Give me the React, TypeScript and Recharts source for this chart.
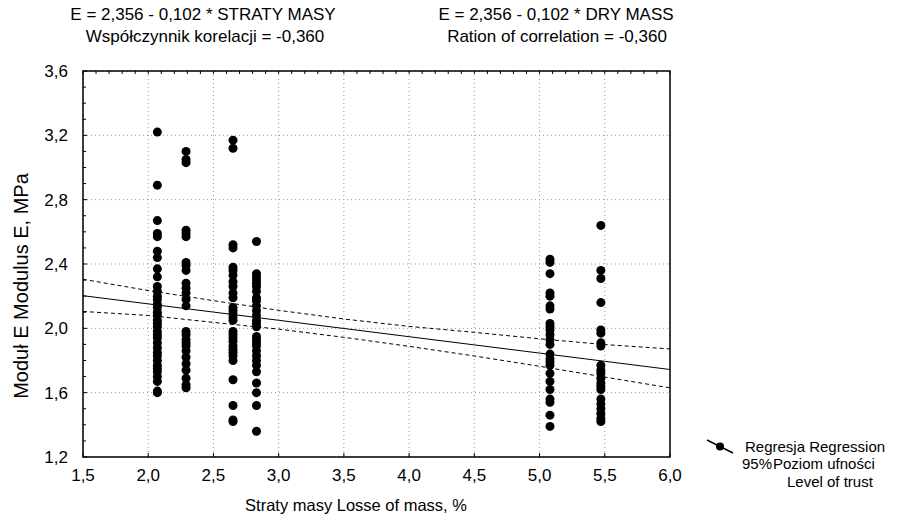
import React from 'react';
import { ScatterChart, Scatter, XAxis, YAxis, CartesianGrid, ReferenceArea } from 'recharts';

// ---- data ----
const columnX = [2.07, 2.29, 2.65, 2.83, 5.08, 5.47];
const col1 = [3.22, 2.89, 2.67, 2.59, 2.57, 2.48, 2.44, 2.37, 2.32, 2.26, 2.23, 2.20, 2.18, 2.15, 2.13, 2.10, 2.08, 2.05, 2.03, 2.01, 1.98, 1.96, 1.94, 1.91, 1.88, 1.85, 1.83, 1.80, 1.77, 1.75, 1.73, 1.70, 1.67, 1.61, 1.60];
const col2 = [3.10, 3.05, 3.03, 2.61, 2.59, 2.57, 2.41, 2.39, 2.36, 2.28, 2.25, 2.22, 2.18, 2.14, 1.98, 1.96, 1.93, 1.91, 1.89, 1.86, 1.82, 1.78, 1.74, 1.69, 1.65, 1.63];
const col3 = [3.17, 3.12, 2.52, 2.50, 2.38, 2.36, 2.33, 2.29, 2.26, 2.22, 2.19, 2.13, 2.11, 2.09, 2.07, 2.05, 1.98, 1.96, 1.94, 1.92, 1.89, 1.87, 1.85, 1.83, 1.80, 1.68, 1.52, 1.43, 1.42];
const col4 = [2.54, 2.34, 2.32, 2.30, 2.28, 2.26, 2.23, 2.19, 2.17, 2.14, 2.11, 2.08, 2.05, 2.03, 2.01, 1.95, 1.93, 1.91, 1.89, 1.86, 1.83, 1.80, 1.77, 1.73, 1.66, 1.60, 1.52, 1.36];
const col5 = [2.43, 2.41, 2.34, 2.22, 2.20, 2.14, 2.12, 2.03, 2.01, 1.99, 1.96, 1.93, 1.90, 1.84, 1.81, 1.79, 1.77, 1.72, 1.67, 1.62, 1.56, 1.54, 1.46, 1.39];
const col6 = [2.64, 2.36, 2.31, 2.16, 1.99, 1.97, 1.91, 1.89, 1.77, 1.74, 1.72, 1.69, 1.66, 1.64, 1.62, 1.56, 1.53, 1.50, 1.47, 1.44, 1.42];
const columns = [col1, col2, col3, col4, col5, col6];

const bandX = [1.5, 2.0, 2.5, 3.0, 3.5, 4.0, 4.5, 5.0, 5.5, 6.0];
const regY = [2.203, 2.152, 2.101, 2.050, 1.999, 1.948, 1.897, 1.846, 1.795, 1.744];
const upperY = [2.305, 2.235, 2.172, 2.112, 2.058, 2.012, 1.975, 1.935, 1.899, 1.872];
const lowerY = [2.105, 2.080, 2.037, 1.995, 1.944, 1.888, 1.828, 1.764, 1.697, 1.630];

const xMajorTicks = [1.5, 2.0, 2.5, 3.0, 3.5, 4.0, 4.5, 5.0, 5.5, 6.0];
const xMinorTicks = [1.5, 1.6, 1.7, 1.8, 1.9, 2.0, 2.1, 2.2, 2.3, 2.4, 2.5, 2.6, 2.7, 2.8, 2.9, 3.0, 3.1, 3.2, 3.3, 3.4, 3.5, 3.6, 3.7, 3.8, 3.9, 4.0, 4.1, 4.2, 4.3, 4.4, 4.5, 4.6, 4.7, 4.8, 4.9, 5.0, 5.1, 5.2, 5.3, 5.4, 5.5, 5.6, 5.7, 5.8, 5.9, 6.0];
const yMajorTicks = [1.2, 1.6, 2.0, 2.4, 2.8, 3.2, 3.6];
const yMinorTicks = [1.2, 1.3, 1.4, 1.5, 1.6, 1.7, 1.8, 1.9, 2.0, 2.1, 2.2, 2.3, 2.4, 2.5, 2.6, 2.7, 2.8, 2.9, 3.0, 3.1, 3.2, 3.3, 3.4, 3.5, 3.6];

const points = columnX.flatMap((x, i) => columns[i].map((y) => ({ x, y })));
const toSeries = (ys: number[]) => bandX.map((x, i) => ({ x, y: ys[i] }));
const regData = toSeries(regY);
const upperData = toSeries(upperY);
const lowerData = toSeries(lowerY);

// ---- layout ----
const W = 885;
const H = 508;
const MARGIN = { top: 63, right: 223, bottom: 29, left: 15 };
const YAXIS_W = 60;
const XAXIS_H = 30;
const PLOT_H = H - MARGIN.top - MARGIN.bottom - XAXIS_H;
const FONT = '"Liberation Sans", Arial, sans-serif';

const fmt = (v: number) => v.toFixed(1).replace('.', ',');
const isMajor = (arr: number[], v: number) => arr.some((m) => Math.abs(m - v) < 1e-6);

const XTick = (props: any) => {
  const { x, y, payload } = props;
  const v = payload.value as number;
  const axisY = y - 8;
  const top = axisY - PLOT_H;
  const major = isMajor(xMajorTicks, v);
  return (
    <g>
      <line x1={x} x2={x} y1={top} y2={top + 3} stroke="#000" strokeWidth={1} />
      {major && <line x1={x} x2={x} y1={axisY} y2={axisY - 4} stroke="#000" strokeWidth={1} />}
      {major && (
        <text x={x} y={y + 4} dy="0.71em" textAnchor="middle" fontSize={17} fill="#000" fontFamily={FONT}>
          {fmt(v)}
        </text>
      )}
    </g>
  );
};

const YTick = (props: any) => {
  const { x, y, payload } = props;
  const v = payload.value as number;
  const axisX = x + 15;
  const major = isMajor(yMajorTicks, v);
  return (
    <g>
      <line x1={axisX} x2={axisX + (major ? 4 : 3)} y1={y} y2={y} stroke="#000" strokeWidth={1} />
      {major && (
        <text x={x} y={y} dy="0.355em" textAnchor="end" fontSize={17} fill="#000" fontFamily={FONT}>
          {fmt(v)}
        </text>
      )}
    </g>
  );
};

const Dot = (props: any) => <circle cx={props.cx} cy={props.cy} r={4.5} fill="#000" />;
const NoDot = () => <g />;

// HTML text helper, page coordinates (wrapper sits at 8,8)
const Txt = ({ cx, cy, size = 17, children, align = 'center' }: any) => (
  <div
    style={{
      position: 'absolute',
      left: cx - 8,
      top: cy - 8 - size * 0.6,
      transform: align === 'center' ? 'translateX(-50%)' : 'none',
      fontSize: size,
      lineHeight: `${Math.round(size * 1.2)}px`,
      fontFamily: FONT,
      color: '#000',
      whiteSpace: 'nowrap',
    }}
  >
    {children}
  </div>
);

export default function App() {
  return (
    <div style={{ position: 'relative', width: W, height: H, background: '#fff' }}>
      <ScatterChart width={W} height={H} margin={MARGIN}>
        <CartesianGrid
          stroke="#999"
          strokeDasharray="1 3"
          verticalValues={xMajorTicks}
          horizontalValues={yMajorTicks}
        />
        <XAxis
          type="number"
          dataKey="x"
          domain={[1.5, 6.0]}
          ticks={xMinorTicks}
          interval={0}
          allowDataOverflow
          height={XAXIS_H}
          axisLine={false}
          tickLine={false}
          tick={<XTick />}
        />
        <YAxis
          type="number"
          dataKey="y"
          domain={[1.2, 3.6]}
          ticks={yMinorTicks}
          interval={0}
          allowDataOverflow
          width={YAXIS_W}
          axisLine={false}
          tickLine={false}
          tickMargin={9}
          tick={<YTick />}
        />
        <Scatter data={upperData} line={{ stroke: '#000', strokeWidth: 1, strokeDasharray: '4 3' }} lineType="joint" shape={<NoDot />} isAnimationActive={false} legendType="none" />
        <Scatter data={lowerData} line={{ stroke: '#000', strokeWidth: 1, strokeDasharray: '4 3' }} lineType="joint" shape={<NoDot />} isAnimationActive={false} legendType="none" />
        <Scatter data={regData} line={{ stroke: '#000', strokeWidth: 1 }} lineType="joint" shape={<NoDot />} isAnimationActive={false} legendType="none" />
        <Scatter data={points} shape={<Dot />} isAnimationActive={false} fill="#000" />
        <ReferenceArea x1={1.5} x2={6.0} y1={1.2} y2={3.6} fill="none" stroke="#000" strokeWidth={1.5} ifOverflow="visible" />
      </ScatterChart>

      <Txt cx={203} cy={15}>E = 2,356 - 0,102 * STRATY MASY</Txt>
      <Txt cx={205} cy={37}>Współczynnik korelacji = -0,360</Txt>
      <Txt cx={556} cy={15}>E = 2,356 - 0,102 * DRY MASS</Txt>
      <Txt cx={557} cy={37}>Ration of correlation = -0,360</Txt>

      <Txt cx={356} cy={505} size={16.5}>Straty masy Losse of mass, %</Txt>

      <div
        style={{
          position: 'absolute',
          left: 21 - 8,
          top: 286 - 8,
          transform: 'translate(-50%, -50%) rotate(-90deg)',
          fontSize: 20,
          fontFamily: FONT,
          whiteSpace: 'nowrap',
          color: '#000',
        }}
      >
        Moduł E Modulus E, MPa
      </div>

      <svg style={{ position: 'absolute', left: 700 - 8, top: 436 - 8 }} width={40} height={22}>
        <line x1={7} y1={4} x2={33} y2={17} stroke="#000" strokeWidth={1.5} />
        <circle cx={20} cy={10.5} r={4} fill="#000" />
      </svg>
      <Txt cx={745} cy={447} size={15} align="left">Regresja Regression</Txt>
      <Txt cx={742} cy={464} size={15} align="left">95%</Txt>
      <Txt cx={773} cy={464} size={15} align="left">Poziom ufności</Txt>
      <Txt cx={787} cy={482} size={15} align="left">Level of trust</Txt>
    </div>
  );
}
